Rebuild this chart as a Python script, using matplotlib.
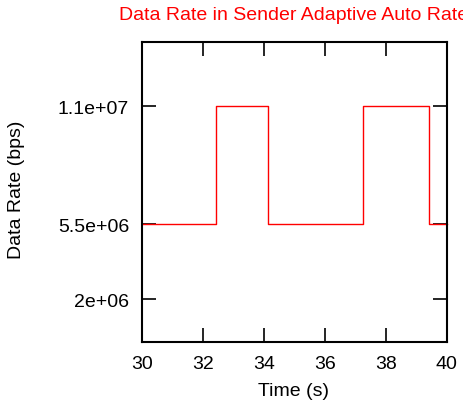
import matplotlib
matplotlib.use("Agg")
import matplotlib.pyplot as plt

times = [30.0, 32.43, 34.15, 37.27, 39.43, 40.0]
rates = [5.5e6, 1.1e7, 5.5e6, 1.1e7, 5.5e6, 5.5e6]
x_ticks = [30, 32, 34, 36, 38, 40]
y_ticks = [2e6, 5.5e6, 1.1e7]
y_tick_labels = ["2e+06", "5.5e+06", "1.1e+07"]

plt.rcParams['font.family'] = ['Liberation Sans', 'DejaVu Sans']
fs = 14

fig = plt.figure(figsize=(4.63, 4.06), dpi=100)
ax = fig.add_axes([141.7/463, 1-343.3/406, (446.7-141.7)/463, (343.3-42.7)/406])
ax.step(times, rates, where='post', color='#ff0000', lw=1.0, clip_on=False)
ax.set_xlim(30, 40)
ax.set_ylim(0, 1.4e7)
ax.set_xticks(x_ticks)
ax.set_xticklabels([str(t) for t in x_ticks])
ax.set_yticks(y_ticks)
ax.set_yticklabels(y_tick_labels)
ax.tick_params(axis='x', pad=9)
ax.tick_params(axis='y', pad=9)
ax.tick_params(direction='in', length=10, width=1.2, top=True, right=True,
               labelsize=fs, colors='black')
for s in ax.spines.values():
    s.set_linewidth(1.5)
fig.text(293/463, 1-392/406, "Time (s)", fontsize=fs, ha='center', va='center')
fig.text(17/463, 1-190/406, "Data Rate (bps)", fontsize=fs, ha='center',
         va='center', rotation=90)
fig.text(294/463, 1-20.5/406, "Data Rate in Sender Adaptive Auto Rate",
         color='#ff0000', fontsize=fs, ha='center', va='baseline')
fig.savefig("out.png", dpi=100)
